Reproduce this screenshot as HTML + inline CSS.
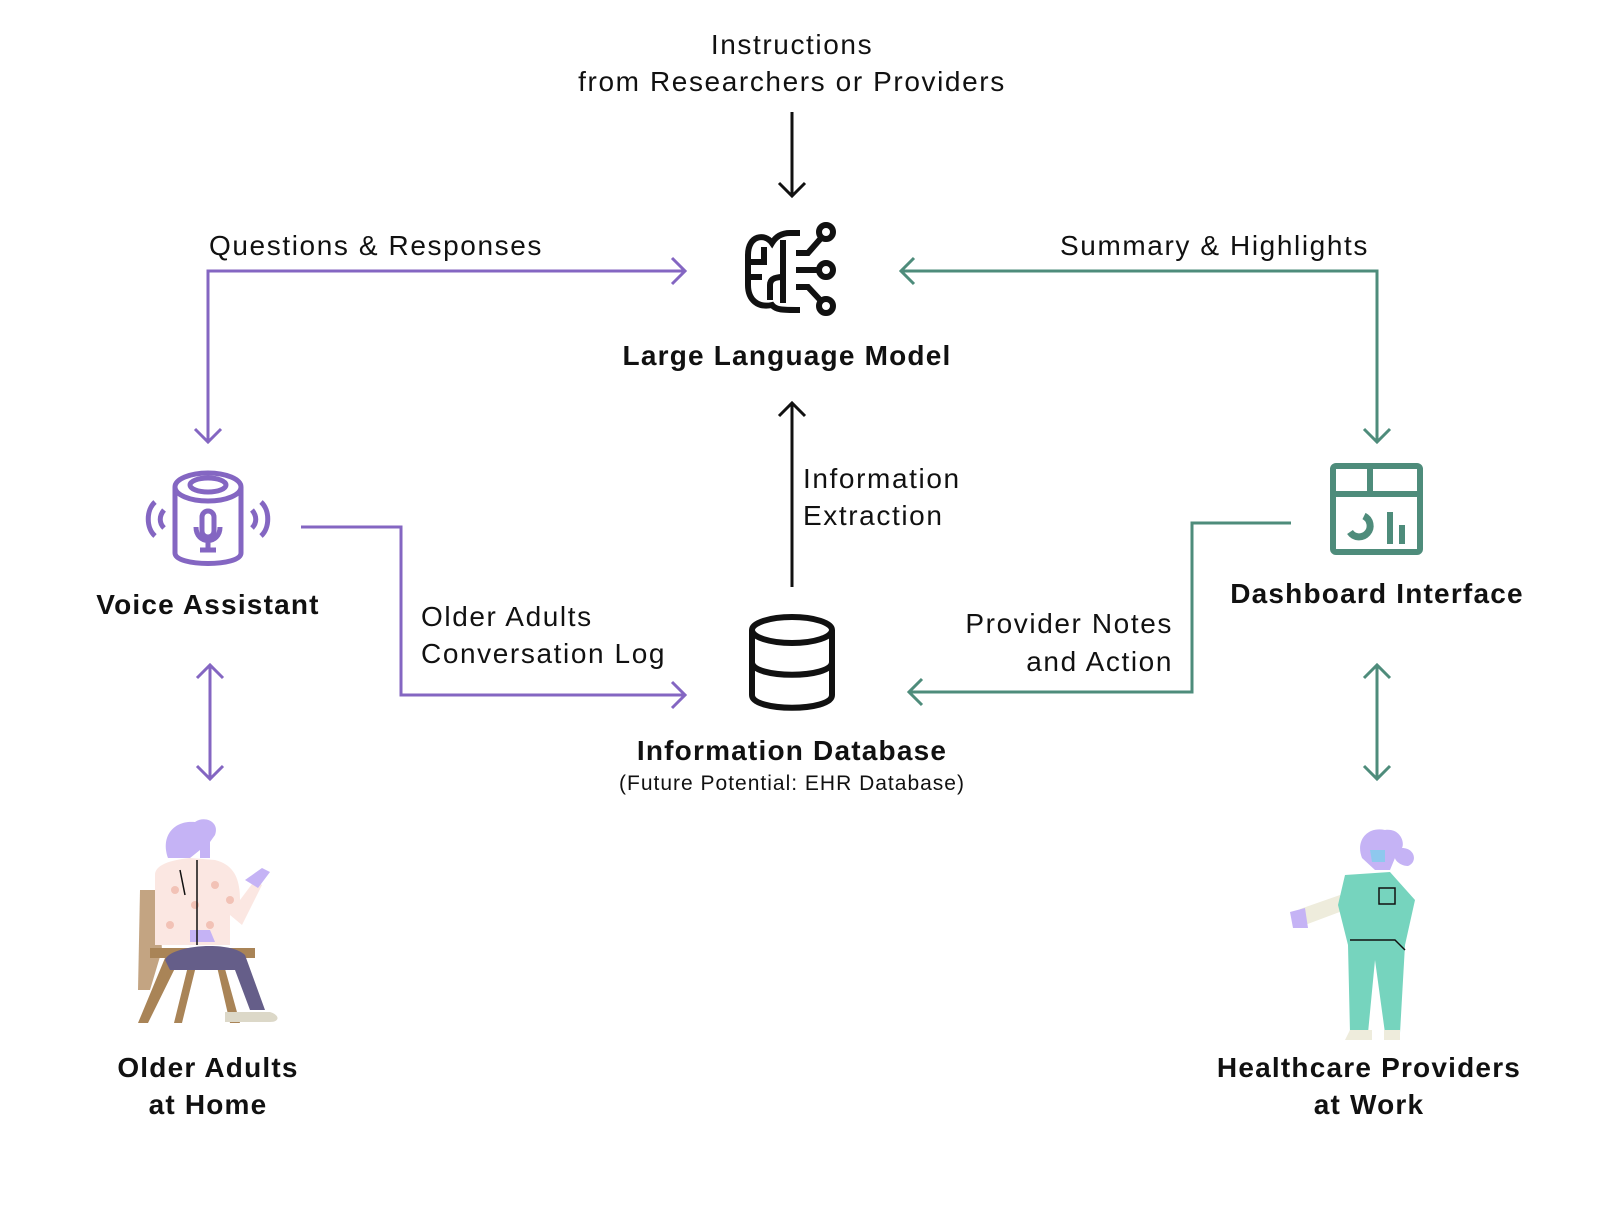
<!DOCTYPE html>
<html><head><meta charset="utf-8"><style>
html,body{margin:0;padding:0;background:#fff;}
svg{display:block;}
text{font-family:"Liberation Sans",sans-serif;fill:#111;}
.r{letter-spacing:1.6px;}
.bb{letter-spacing:1.2px;font-weight:bold;}
</style></head><body>
<svg width="1621" height="1217" viewBox="0 0 1621 1217" xmlns="http://www.w3.org/2000/svg">
<g font-size="28" class="r">
<text x="792" y="54" text-anchor="middle" class="r">Instructions</text>
<text x="792" y="91" text-anchor="middle" class="r">from Researchers or Providers</text>
<text x="209" y="255" class="r">Questions &amp; Responses</text>
<text x="1369" y="255" text-anchor="end" class="r">Summary &amp; Highlights</text>
<text x="803" y="488" class="r">Information</text>
<text x="803" y="525" class="r">Extraction</text>
<text x="421" y="626" class="r">Older Adults</text>
<text x="421" y="663" class="r">Conversation Log</text>
<text x="1173" y="633" text-anchor="end" class="r">Provider Notes</text>
<text x="1173" y="671" text-anchor="end" class="r">and Action</text>
</g>
<g font-size="28">
<text x="787" y="365" text-anchor="middle" class="bb">Large Language Model</text>
<text x="208" y="614" text-anchor="middle" class="bb">Voice Assistant</text>
<text x="1377" y="603" text-anchor="middle" class="bb">Dashboard Interface</text>
<text x="792" y="760" text-anchor="middle" class="bb">Information Database</text>
<text x="208" y="1077" text-anchor="middle" class="bb">Older Adults</text>
<text x="208" y="1114" text-anchor="middle" class="bb">at Home</text>
<text x="1369" y="1077" text-anchor="middle" class="bb">Healthcare Providers</text>
<text x="1369" y="1114" text-anchor="middle" class="bb">at Work</text>
</g>
<text x="792" y="790" text-anchor="middle" font-size="21" letter-spacing="1">(Future Potential: EHR Database)</text>

<g stroke="#111" stroke-width="3" fill="none">
<path d="M792 112 V196 M779 183 L792 196 L805 183"/>
<path d="M792 587 V403 M779 416 L792 403 L805 416"/>
</g>
<g stroke="#8466c2" stroke-width="3" fill="none">
<path d="M208 442 V271 H685 M672 258 L685 271 L672 284"/>
<path d="M195 429 L208 442 L221 429"/>
<path d="M301 527 H401 V695 H685 M672 682 L685 695 L672 708"/>
<path d="M210 665 V779 M197 678 L210 665 L223 678 M197 766 L210 779 L223 766"/>
</g>
<g stroke="#4e8c7b" stroke-width="3" fill="none">
<path d="M901 271 H1377 V442 M914 258 L901 271 L914 284 M1364 429 L1377 442 L1390 429"/>
<path d="M1291 523 H1192 V692 H909 M922 679 L909 692 L922 705"/>
<path d="M1377 665 V779 M1364 678 L1377 665 L1390 678 M1364 766 L1377 779 L1390 766"/>
</g>
<!-- brain -->
<g stroke="#111" stroke-width="6" fill="none">
<path d="M800 233 H790 C780 233 775 238 772 243 C765 233 748 235 748 255 V285 C748 300 758 308 772 305 C776 310 782 310 800 310"/>
<path d="M783 240 V303"/>
<path d="M764 247 V262 H750 M750 277 H762 M770 300 V285 C770 279 775 277 783 277"/>
<path d="M796 253 H808 L822 237 M796 270 H819 M796 287 H808 L822 302"/>
<circle cx="826" cy="232" r="7"/><circle cx="826" cy="270" r="7"/><circle cx="826" cy="306" r="7"/>
</g>
<g stroke="#111" stroke-width="6" fill="none">
<ellipse cx="792" cy="630" rx="40" ry="13"/>
<path d="M752 630 V695 C752 712 832 712 832 695 V630 M752 662 C752 679 832 679 832 662"/>
</g>
<g stroke="#8466c2" stroke-width="5" fill="none">
<path d="M175 487 V553 C175 567 241 567 241 553 V487"/>
<ellipse cx="208" cy="487" rx="33" ry="14"/>
<ellipse cx="208" cy="485" rx="18" ry="7"/>
<rect x="202" y="511" width="12" height="26" rx="6"/>
<path d="M196 527 C196 545 220 545 220 527 M208 541 V550 M200 550 H216"/>
<path d="M155 502 C146 510 146 528 155 536 M164 510 C159 516 159 523 164 528"/>
<path d="M261 502 C270 510 270 528 261 536 M252 510 C257 516 257 523 252 528"/>
</g>
<g stroke="#4e8c7b" stroke-width="6" fill="none">
<rect x="1333" y="466" width="87" height="86" rx="3"/>
<path d="M1333 494 H1420 M1370 466 V494"/>
<path d="M1364 516 A11 11 0 1 1 1350 532" stroke-width="7"/>
<path d="M1390 512 V544 M1402 525 V544" stroke-width="6"/>
</g>
<g>
<path d="M140 890 H158 L162 950 L150 990 H138 Z" fill="#c3a482"/>
<path d="M150 948 H255 V958 H150 Z" fill="#a98457"/>
<path d="M165 958 L138 1023 H148 L180 958 Z M215 958 L230 1023 H240 L222 958 Z M190 958 L174 1023 H182 L198 958 Z" fill="#a98457"/>
<path d="M165 960 C170 945 230 940 245 955 L265 1010 H250 L235 970 H170 Z" fill="#655e89"/>
<path d="M225 1012 H270 C280 1015 280 1022 270 1022 H225 Z" fill="#dcd8c8"/>
<path d="M155 875 C155 865 170 860 190 858 L215 860 C235 865 240 880 240 900 L255 880 L262 885 L242 925 L230 915 L230 945 H155 Z" fill="#fbe7e2"/>
<circle cx="175" cy="890" r="4" fill="#f2c2b6"/><circle cx="195" cy="905" r="4" fill="#f2c2b6"/><circle cx="215" cy="885" r="4" fill="#f2c2b6"/><circle cx="170" cy="925" r="4" fill="#f2c2b6"/><circle cx="210" cy="925" r="4" fill="#f2c2b6"/><circle cx="230" cy="900" r="4" fill="#f2c2b6"/>
<path d="M190 930 H210 L215 942 H190 Z" fill="#c5b3f5"/>
<path d="M245 880 L262 868 L270 872 L258 888 Z" fill="#c5b3f5"/>
<path d="M168 858 C160 835 175 820 195 822 C205 815 220 822 215 835 L210 842 V858 H200 V850 L190 858 Z" fill="#c5b3f5"/>
<path d="M197 860 V945 M180 870 L185 895" stroke="#111" stroke-width="1.5"/>
</g>
<g>
<path d="M1300 909 L1340 895 L1345 910 L1305 925 Z" fill="#eeecdc"/>
<path d="M1290 912 L1305 908 L1308 928 L1293 928 Z" fill="#c5b3f5"/>
<path d="M1345 875 L1390 872 L1415 900 L1405 945 L1400 1033 H1385 L1375 960 L1368 1033 H1350 L1348 945 L1338 905 Z" fill="#76d4be"/>
<path d="M1350 1030 H1372 V1040 H1345 Z M1384 1030 H1400 V1040 H1384 Z" fill="#eeecdc"/>
<path d="M1362 858 C1355 840 1368 826 1385 830 C1400 828 1405 842 1402 848 C1415 848 1418 862 1408 866 C1400 866 1395 860 1395 858 L1390 870 H1375 Z" fill="#c5b3f5"/>
<path d="M1370 850 H1385 V862 H1372 Z" fill="#8ec8ee"/>
<rect x="1379" y="888" width="16" height="16" fill="none" stroke="#111" stroke-width="1.5"/>
<path d="M1350 940 H1395 L1405 950" fill="none" stroke="#111" stroke-width="1.5"/>
</g>
</svg>
</body></html>
